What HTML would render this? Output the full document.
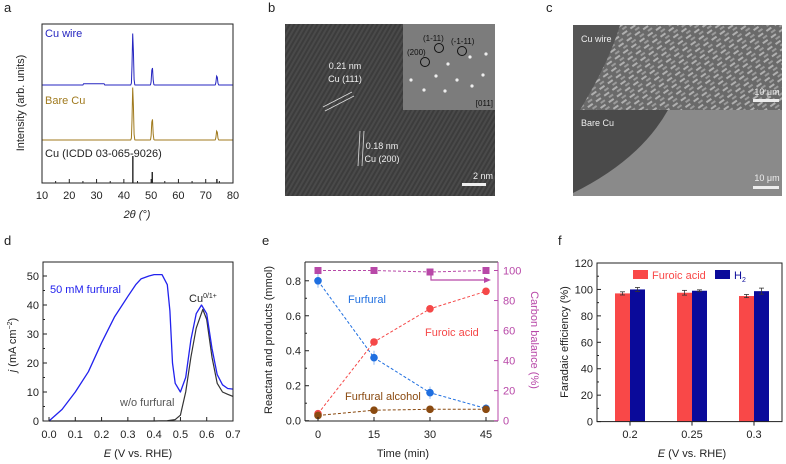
<!DOCTYPE html>
<html><head><meta charset="utf-8"><style>
body{margin:0;background:#fff}
svg{display:block;font-family:"Liberation Sans",Arial,sans-serif}
</style></head><body>
<svg width="786" height="464" viewBox="0 0 786 464">
<defs>
<pattern id="lat" width="4" height="4" patternUnits="userSpaceOnUse" patternTransform="rotate(30)"><rect width="4" height="4" fill="#3c3c3c"/><rect width="2" height="4" fill="#4a4a4a"/></pattern>
<pattern id="wire" width="10" height="8" patternUnits="userSpaceOnUse" patternTransform="rotate(-35)"><rect width="10" height="8" fill="#6a6a6a"/><rect width="6" height="2" fill="#b0b0b0"/><rect x="3" y="4" width="5" height="2" fill="#9a9a9a"/></pattern>
</defs>
<g id="root"></g>
</svg>
<script>
// Panel a data
const xrdPeaks=[43.3,50.4,74.1];
const wireHeights=[53,19,10];
const bareHeights=[54,23,10];
const icddHeights=[27,11,4];
// Panel d data
const eBlue=[0,0.05,0.1,0.15,0.2,0.25,0.3,0.33,0.35,0.38,0.4,0.43,0.45,0.46,0.47,0.48,0.5,0.52,0.54,0.56,0.58,0.6,0.62,0.64,0.66,0.68,0.7];
const jBlue=[0,4,10,17,27,36,43,47,49,50,50.5,50.5,47,38,20,13,10,15,28,37,40,37,25,16,12.5,11.2,11];
const eBlack=[0,0.1,0.2,0.3,0.4,0.45,0.48,0.5,0.52,0.54,0.56,0.585,0.6,0.62,0.64,0.66,0.68,0.7];
const jBlack=[0,0,0,0,0,0.1,0.5,2,10,22,32,38.5,35,22,13,10,9.2,8.5];
const dTicks=[0,0.1,0.2,0.3,0.4,0.5,0.6,0.7];
// Panel e data
const times=[0,15,30,45];
const furfural=[0.8,0.36,0.16,0.07];
const furfuralErr=[0.04,0.04,0.035,0.025];
const furoic=[0.04,0.45,0.64,0.74];
const alcohol=[0.03,0.06,0.065,0.065];
const carbon=[100,100,99,100];
// Panel f data
const potentials=["0.2","0.25","0.3"];
const feFuroic=[97,97.5,95];
const feFuroicErr=[1.2,1.8,1.2];
const feH2=[100,99,98.7];
const feH2Err=[1.5,0.7,2.3];

const NS="http://www.w3.org/2000/svg";
const root=document.getElementById('root');
function el(tag,attrs,parent,txt){const e=document.createElementNS(NS,tag);for(const k in attrs)e.setAttribute(k,attrs[k]);if(txt!==undefined)e.textContent=txt;(parent||root).appendChild(e);return e;}
function T(x,y,s,size,fill,anchor,extra){const t=el('text',Object.assign({x:x,y:y,'font-size':size||11,fill:fill||'#222','text-anchor':anchor||'start'},extra||{}),root,s);return t;}

// panel letters
[['a',4,12],['b',268,12],['c',546,12],['d',4,245],['e',262,245],['f',558,245]].forEach(p=>{const t=T(p[1],p[2],p[0],13,'#222');

});

// ---------- Panel a ----------
(function(){
const X0=42,X1=233,Y0=24,Y1=183;
const xa=v=>X0+(v-10)/70*(X1-X0);
const g=el('g',{});


function trace(base,heights,color,noise){let d='';for(let v=10;v<=80;v+=0.25){let y=base;xrdPeaks.forEach((p,i)=>{y-=heights[i]*Math.exp(-Math.pow((v-p)/0.3,2));});if(noise&&v>25&&v<33)y-=1.2;d+=(d?'L':'M')+xa(v).toFixed(1)+','+y.toFixed(1);}return el('path',{d:d,fill:'none',stroke:color,'stroke-width':1},g);}
const w=trace(85,wireHeights,'#2626c0',true);


const b=trace(140,bareHeights,'#a07a1e');


xrdPeaks.forEach((p,i)=>{const l=el('line',{x1:xa(p),x2:xa(p),y1:Y1,y2:Y1-icddHeights[i],stroke:'#111','stroke-width':1.3},g);

});
el('rect',{x:X0,y:Y0,width:X1-X0,height:Y1-Y0,fill:'none',stroke:'#222','stroke-width':1},g);
for(let v=10;v<=80;v+=5){el('line',{x1:xa(v),x2:xa(v),y1:Y1,y2:Y1-(v%10?2:4),stroke:'#222'},g);}
for(let v=10;v<=80;v+=10){const t=T(xa(v),199,String(v),11,'#222','middle');

}
const xt=T(137,218,'2θ (°)',11,'#222','middle',{'font-style':'italic'});


const yt=T(0,0,'Intensity (arb. units)',11,'#222','middle',{transform:'translate(24,103) rotate(-90)'});


const l1=T(45,37,'Cu wire',11,'#2626c0');


const l2=T(45,104,'Bare Cu',11,'#a07a1e');


const l3=T(45,157,'Cu (ICDD 03-065-9026)',11,'#222');


})();

// ---------- Panel b ----------
(function(){
const img=el('rect',{x:285,y:24,width:210,height:172,fill:'url(#lat)'});


const ins=el('rect',{x:403,y:24,width:92,height:86,fill:'#7c7c7c'});


[[448,64],[470,57],[436,76],[457,80],[472,86],[445,91],[424,90],[483,75],[411,80],[486,54]].forEach(p=>el('circle',{cx:p[0],cy:p[1],r:1.6,fill:'#eee'}));
[[425,62],[439,48],[462,51]].forEach(p=>el('circle',{cx:p[0],cy:p[1],r:4.5,fill:'none',stroke:'#111','stroke-width':1}));
T(407,55,'(200)',8,'#111');T(423,41,'(1-11)',8,'#111');T(451,44,'(-1-11)',8,'#111');T(493,106,'[011]',8,'#111','end');
T(345,69,'0.21 nm',9,'#eee','middle');T(345,82,'Cu (111)',9,'#eee','middle');
el('line',{x1:323,y1:107,x2:352,y2:92,stroke:'#ddd','stroke-width':0.8});el('line',{x1:325,y1:111,x2:354,y2:96,stroke:'#ddd','stroke-width':0.8});
T(382,149,'0.18 nm',9,'#eee','middle');T(382,162,'Cu (200)',9,'#eee','middle');
el('line',{x1:360,y1:131,x2:358,y2:166,stroke:'#ddd','stroke-width':0.8});el('line',{x1:364,y1:131,x2:362,y2:166,stroke:'#ddd','stroke-width':0.8});
T(483,179,'2 nm',9,'#eee','middle');el('rect',{x:462,y:183,width:24,height:3,fill:'#eee'});
})();

// ---------- Panel c ----------
(function(){
const top=el('rect',{x:573,y:25,width:209,height:85,fill:'url(#wire)'});


el('path',{d:'M573,25 L620,25 Q610,60 580,110 L573,110Z',fill:'#555'});
const bot=el('rect',{x:573,y:110,width:209,height:86,fill:'#8a8a8a'});


el('path',{d:'M573,110 L668,110 Q640,160 573,193Z',fill:'#4a4a4a'});
T(581,42,'Cu wire',9,'#eee');T(581,126,'Bare Cu',9,'#eee');
T(767,95,'10 μm',9,'#eee','middle');el('rect',{x:753,y:99,width:26,height:3,fill:'#eee'});
T(767,181,'10 μm',9,'#eee','middle');el('rect',{x:753,y:186,width:26,height:3,fill:'#eee'});
})();

// ---------- Panel d ----------
(function(){
const X0=43,X1=233,Y0=262,Y1=421;
const xs=v=>49+v/0.7*(X1-49-0);const ys=v=>Y1-v*2.9;
const g=el('g',{});


function line(xa,ya,color,w){let d='';xa.forEach((v,i)=>d+=(i?'L':'M')+xs(v).toFixed(1)+','+ys(ya[i]).toFixed(1));return el('path',{d:d,fill:'none',stroke:color,'stroke-width':w,'stroke-linejoin':'round'},g);}
const k=line(eBlack,jBlack,'#333',1.2);


const b=line(eBlue,jBlue,'#2222ee',1.3);


el('rect',{x:X0,y:Y0,width:X1-X0,height:Y1-Y0,fill:'none',stroke:'#222'},g);
for(let v=0;v<=50;v+=5){el('line',{x1:X0,x2:X0+(v%10?2:4),y1:ys(v),y2:ys(v),stroke:'#222'},g);}
for(let v=0;v<=50;v+=10){const t=T(X0-4,ys(v)+4,String(v),11,'#222','end');

}
dTicks.forEach(v=>{el('line',{x1:xs(v),x2:xs(v),y1:Y1,y2:Y1-4,stroke:'#222'},g);const t=T(xs(v),438,v.toFixed(1),11,'#222','middle');

});
const xt=T(138,457,'',11,'#222','middle');xt.innerHTML='<tspan font-style="italic">E</tspan> (V vs. RHE)';


const yt=T(0,0,'',11,'#222','middle',{transform:'translate(16,345) rotate(-90)'});yt.innerHTML='<tspan font-style="italic">j</tspan> (mA cm<tspan dy="-4" font-size="7">−2</tspan><tspan dy="4">)</tspan>';


const l1=T(50,293,'50 mM furfural',11,'#2222ee');


const l2=T(189,302,'',11,'#222');l2.innerHTML='Cu<tspan dy="-4" font-size="7">0/1+</tspan>';


const l3=T(120,406,'w/o furfural',11,'#555');


})();

// ---------- Panel e ----------
(function(){
const X0=305,X1=498,Y0=262,Y1=421;
const xs=v=>318+v/45*168;const ys=v=>420.7-v*174.9;const yr=v=>420.7-v*1.502;
const g=el('g',{});


function series(vals,color,name,err,yf,sq){yf=yf||ys;let d='';vals.forEach((v,i)=>d+=(i?'L':'M')+xs(times[i])+','+yf(v).toFixed(1));
const p=el('path',{d:d,fill:'none',stroke:color,'stroke-width':1,'stroke-dasharray':'3,2'},g);


vals.forEach((v,i)=>{const x=xs(times[i]),y=yf(v);
if(err){el('line',{x1:x,x2:x,y1:ys(v-err[i]),y2:ys(v+err[i]),stroke:color,'stroke-width':0.8,opacity:0.6},g);}
const m=sq?el('rect',{x:x-3.5,y:y-3.5,width:7,height:7,fill:color},g):el('circle',{cx:x,cy:y,r:3.8,fill:color},g);

});}
series(carbon,'#b848a8','carbon-balance',null,yr,true);
series(furfural,'#1f6fe0','furfural',furfuralErr);
series(furoic,'#f54848','furoic-acid');
series(alcohol,'#8a4a10','furfural-alcohol');
el('path',{d:'M431,271 V280 H486',fill:'none',stroke:'#b848a8','stroke-width':1.2},g);
el('path',{d:'M491,280 L484,277 L484,283Z',fill:'#b848a8'},g);
el('line',{x1:X0,y1:Y0,x2:X1,y2:Y0,stroke:'#222'},g);
el('line',{x1:X0,y1:Y0,x2:X0,y2:Y1,stroke:'#222'},g);
el('line',{x1:X0,y1:Y1,x2:X1,y2:Y1,stroke:'#222'},g);
el('line',{x1:X1,y1:Y0,x2:X1,y2:Y1,stroke:'#b848a8'},g);
for(let v=0;v<=0.8001;v+=0.1){el('line',{x1:X0,x2:X0+(Math.round(v*10)%2?2:4),y1:ys(v),y2:ys(v),stroke:'#222'},g);}
[0,0.2,0.4,0.6,0.8].forEach(v=>{const t=T(X0-4,ys(v)+4,v.toFixed(1),11,'#222','end');

});
[0,20,40,60,80,100].forEach(v=>{el('line',{x1:X1,x2:X1-4,y1:yr(v),y2:yr(v),stroke:'#b848a8'},g);const t=T(X1+5,yr(v)+4,String(v),11,'#b848a8');

});
times.forEach(v=>{el('line',{x1:xs(v),x2:xs(v),y1:Y1,y2:Y1-4,stroke:'#222'},g);const t=T(xs(v),438,String(v),11,'#222','middle');

});
const xt=T(403,457,'Time (min)',11,'#222','middle');


const yt=T(0,0,'Reactant and products (mmol)',11,'#222','middle',{transform:'translate(272,340) rotate(-90)'});


const yt2=T(0,0,'Carbon balance (%)',11,'#b848a8','middle',{transform:'translate(531,340) rotate(90)'});


const a=T(348,303,'Furfural',11,'#1f6fe0');
const b=T(425,336,'Furoic acid',11,'#f54848');
const c=T(345,400,'Furfural alcohol',11,'#8a4a10');
})();

// ---------- Panel f ----------
(function(){
const X0=597,X1=782,Y0=263,Y1=421.6;
const ys=v=>Y1-v/120*(Y1-Y0);const cx=[630,692,754];const bw=15;
const g=el('g',{});


potentials.forEach((p,i)=>{
const r=el('rect',{x:cx[i]-bw,y:ys(feFuroic[i]),width:bw,height:Y1-ys(feFuroic[i]),fill:'#f94848'},g);


const b=el('rect',{x:cx[i],y:ys(feH2[i]),width:bw,height:Y1-ys(feH2[i]),fill:'#0a0a9a'},g);


[[cx[i]-bw/2,feFuroic[i],feFuroicErr[i]],[cx[i]+bw/2,feH2[i],feH2Err[i]]].forEach(e=>{el('line',{x1:e[0],x2:e[0],y1:ys(e[1]-e[2]),y2:ys(e[1]+e[2]),stroke:'#333','stroke-width':0.8},g);[e[1]-e[2],e[1]+e[2]].forEach(v=>el('line',{x1:e[0]-2.5,x2:e[0]+2.5,y1:ys(v),y2:ys(v),stroke:'#333','stroke-width':0.8},g));});
el('line',{x1:cx[i],x2:cx[i],y1:Y1,y2:Y1+4,stroke:'#222'},g);
const t=T(cx[i],438,p,11,'#222','middle');

});
el('rect',{x:X0,y:Y0,width:X1-X0,height:Y1-Y0,fill:'none',stroke:'#222'},g);
for(let v=0;v<=120;v+=10){el('line',{x1:X0,x2:X0+(v%20?2:4),y1:ys(v),y2:ys(v),stroke:'#222'},g);}
for(let v=0;v<=120;v+=20){const t=T(X0-4,ys(v)+4,String(v),11,'#222','end');

}
el('rect',{x:633,y:270,width:15,height:9,fill:'#f94848'},g);
const l1=T(652,279,'Furoic acid',11,'#f94848');


el('rect',{x:715,y:270,width:15,height:9,fill:'#0a0a9a'},g);
const l2=T(734,279,'',11,'#0a0a9a');l2.innerHTML='H<tspan dy="3" font-size="7">2</tspan>';


const xt=T(692,457,'',11,'#222','middle');xt.innerHTML='<tspan font-style="italic">E</tspan> (V vs. RHE)';


const yt=T(0,0,'Faradaic efficiency (%)',11,'#222','middle',{transform:'translate(568,342) rotate(-90)'});


})();
</script>
</body></html>
